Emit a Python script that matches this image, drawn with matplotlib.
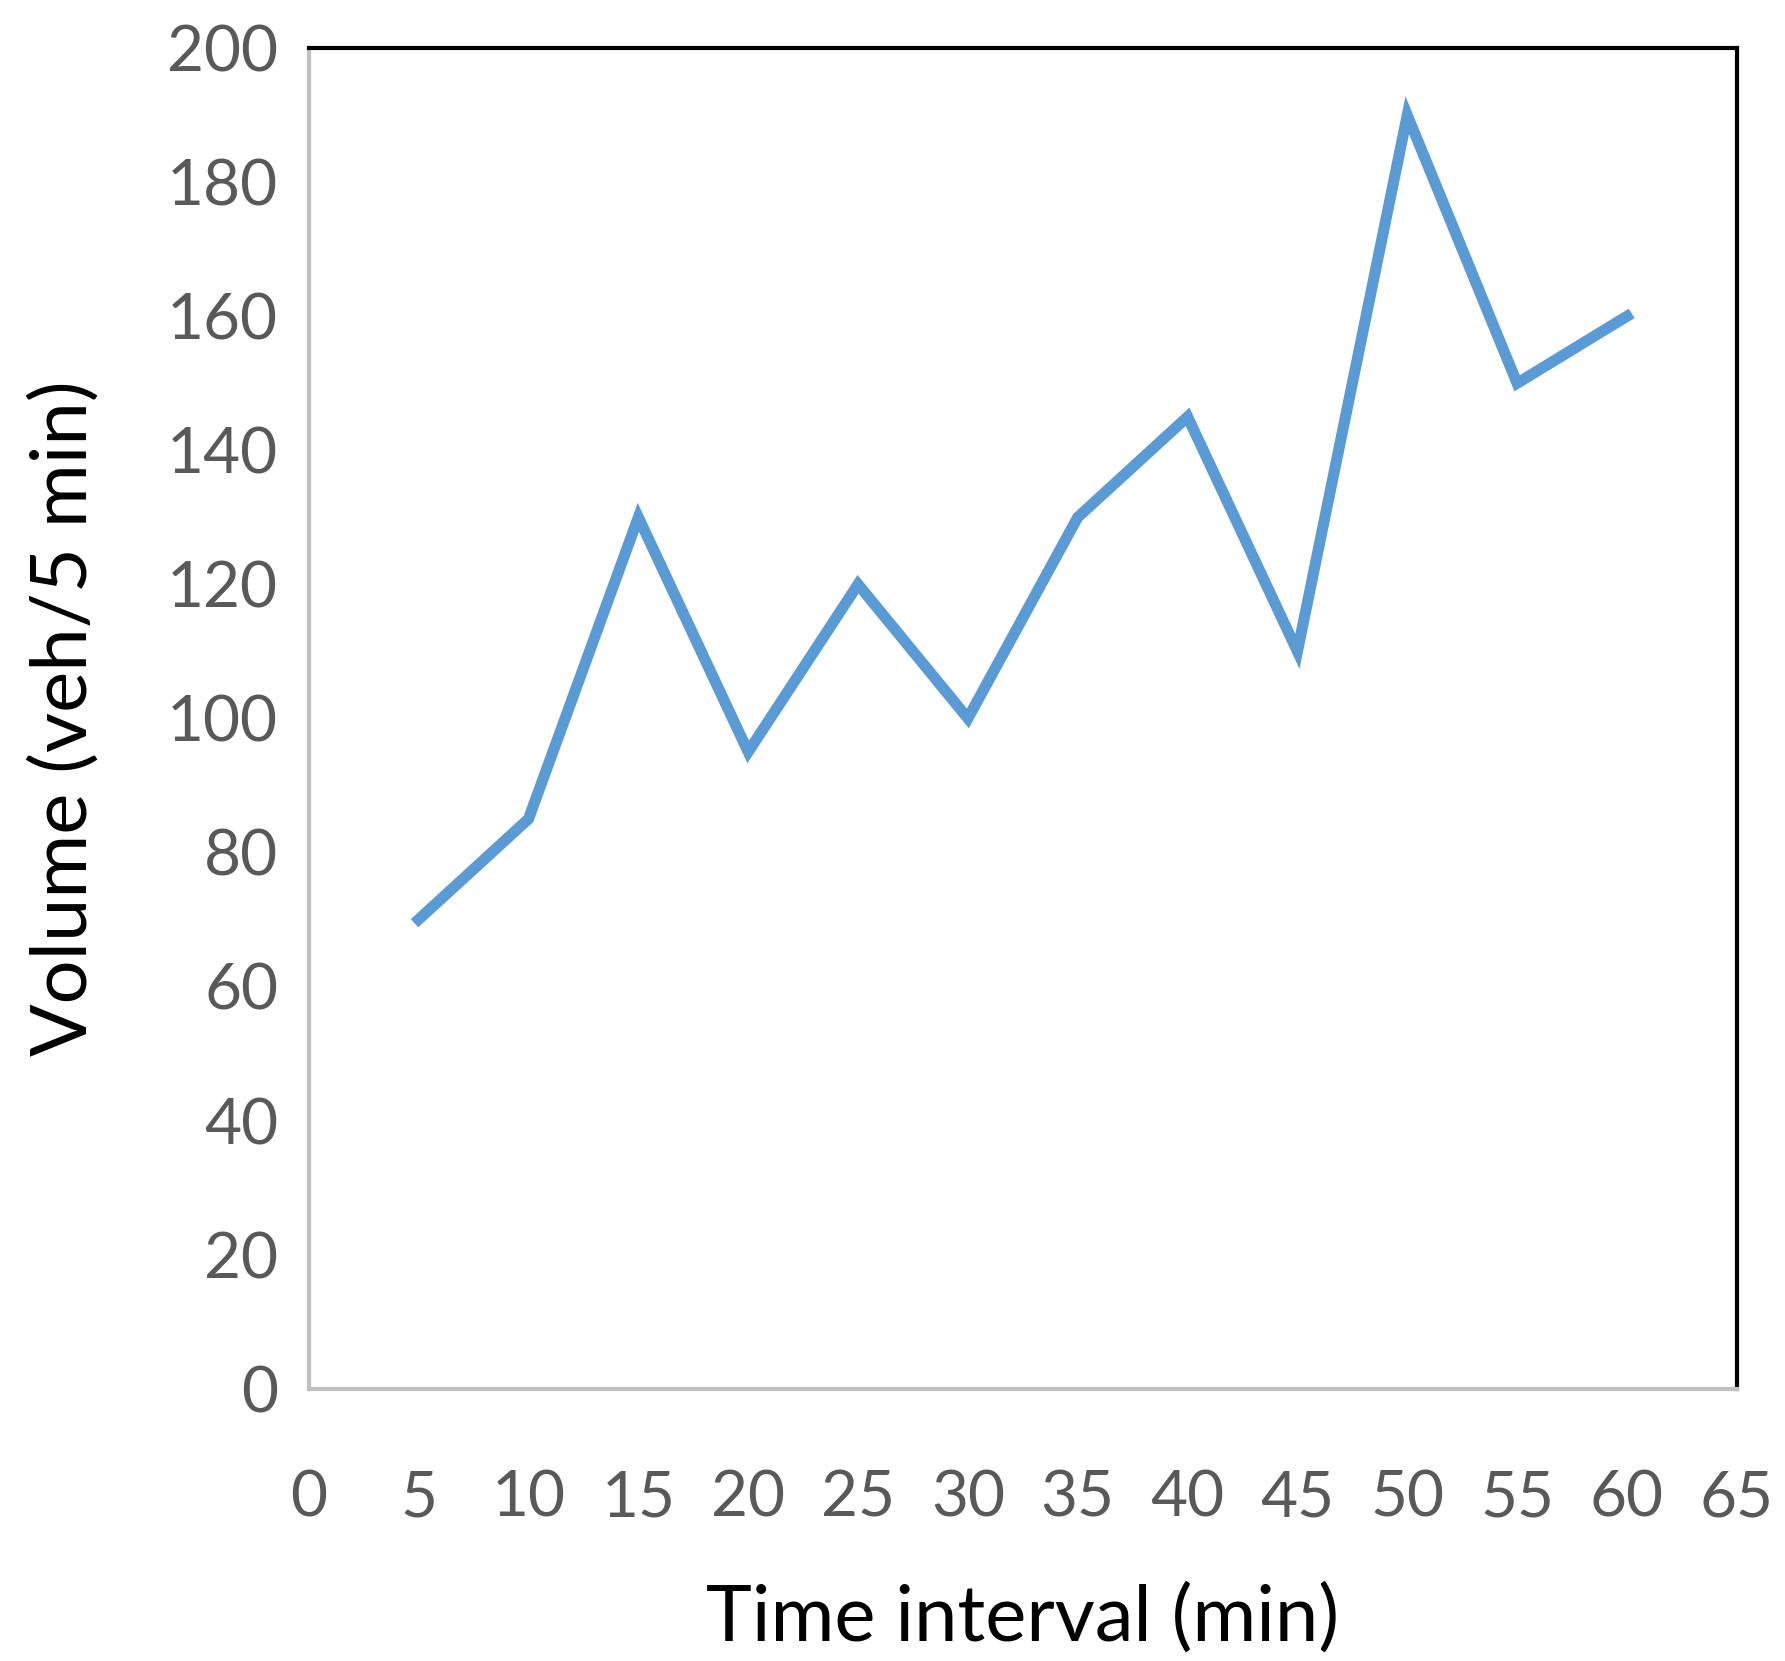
import matplotlib
matplotlib.use("Agg")
import matplotlib.pyplot as plt

# Volume per 5-minute interval
minutes = [5, 10, 15, 20, 25, 30, 35, 40, 45, 50, 55, 60]
volume = [70, 85, 130, 95, 120, 100, 130, 145, 110, 190, 150, 160]

plt.rcParams["font.family"] = ["Lato", "DejaVu Sans"]

fig = plt.figure(figsize=(17.85, 16.61), dpi=100)
ax = fig.add_axes([0.173, 0.164, 0.80, 0.807])

ax.plot(minutes, volume, color="#5B9BD5", linewidth=8, solid_joinstyle="miter")

ax.set_xlim(0, 65)
ax.set_ylim(0, 200)
ax.set_xticks(range(0, 66, 5))
ax.set_yticks(range(0, 201, 20))
ax.tick_params(labelsize=46, colors="#595959", length=0, pad=22)
ax.tick_params(axis="x", length=0, pad=58)

for side in ("top", "right"):
    ax.spines[side].set_color("black")
    ax.spines[side].set_linewidth(3)
for side in ("left", "bottom"):
    ax.spines[side].set_color("#BFBFBF")
    ax.spines[side].set_linewidth(3)

ax.set_xlabel("Time interval (min)", fontsize=56, labelpad=40)
ax.set_ylabel("Volume (veh/5 min)", fontsize=56, labelpad=48)

fig.savefig("out.png", dpi=100, facecolor="white")
